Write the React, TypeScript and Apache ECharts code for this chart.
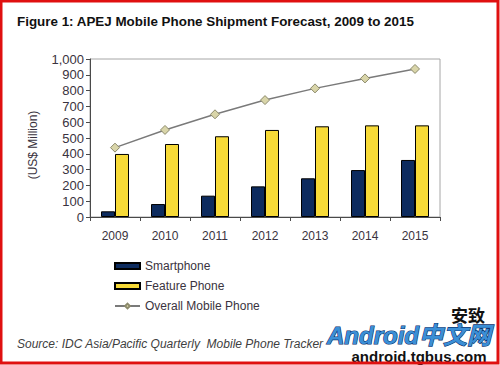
import React, { useEffect, useRef } from "react";
import * as echarts from "echarts";

const years = ["2009", "2010", "2011", "2012", "2013", "2014", "2015"];
const smartphone = [36, 82, 135, 194, 245, 297, 361];
const featurePhone = [399, 462, 511, 551, 574, 580, 580];
const overallMobile = [439, 551, 650, 740, 814, 877, 937];
const yTicks = { min: 0, max: 1000, interval: 100 };

export default function App() {
  const ref = useRef<HTMLDivElement>(null);
  useEffect(() => {
    if (!ref.current) return;
    const chart = echarts.init(ref.current, undefined, { renderer: "svg" });
    const font = "Arial, 'Liberation Sans', sans-serif";
    chart.setOption({
      animation: false,
      backgroundColor: "#ffffff",
      textStyle: { fontFamily: font },
      grid: {
        left: 90,
        right: 60,
        top: 59,
        bottom: 148,
        containLabel: false,
        show: true,
        borderColor: "#a6a6a6",
        borderWidth: 1,
        backgroundColor: "#ffffff",
      },
      xAxis: {
        type: "category",
        data: years,
        axisLine: { show: true, lineStyle: { color: "#4a4a4a", width: 1 } },
        axisTick: { show: true, inside: false, length: 4, alignWithLabel: false, lineStyle: { color: "#4a4a4a" } },
        axisLabel: { color: "#3a3340", fontSize: 12, fontFamily: font, margin: 13 },
        splitLine: { show: false },
      },
      yAxis: {
        type: "value",
        min: yTicks.min,
        max: yTicks.max,
        interval: yTicks.interval,
        axisLine: { show: true, lineStyle: { color: "#4a4a4a", width: 1 } },
        axisTick: { show: true, length: 4, lineStyle: { color: "#4a4a4a" } },
        axisLabel: {
          color: "#3a3340",
          fontSize: 13,
          fontFamily: font,
          margin: 6,
          formatter: (v: number) => v.toLocaleString("en-US"),
        },
        splitLine: { show: false },
      },
      legend: {
        orient: "vertical",
        left: 114,
        top: 260,
        padding: 0,
        itemWidth: 25,
        itemHeight: 6,
        itemGap: 8,
        textStyle: { color: "#3a3340", fontSize: 12, fontFamily: font },
        data: [
          { name: "Smartphone", icon: "rect" },
          { name: "Feature Phone", icon: "rect" },
          { name: "Overall Mobile Phone" },
        ],
      },
      series: [
        {
          name: "Smartphone",
          type: "bar",
          data: smartphone,
          barGap: "0%",
          barCategoryGap: "44%",
          itemStyle: { color: "#0d2b5e", borderColor: "#000000", borderWidth: 1 },
        },
        {
          name: "Feature Phone",
          type: "bar",
          data: featurePhone,
          barGap: "0%",
          barCategoryGap: "44%",
          itemStyle: { color: "#f7da38", borderColor: "#000000", borderWidth: 1 },
        },
        {
          name: "Overall Mobile Phone",
          type: "line",
          data: overallMobile,
          symbol: "diamond",
          symbolSize: 9,
          lineStyle: { color: "#7a7a7a", width: 1.5 },
          itemStyle: { color: "#d9d5a9", borderColor: "#8c8a6c", borderWidth: 1 },
        },
      ],
      graphic: [
        {
          type: "text",
          left: 17,
          top: 15,
          style: {
            text: "Figure 1: APEJ Mobile Phone Shipment Forecast, 2009 to 2015",
            font: "bold 13.4px Arial, 'Liberation Sans', sans-serif",
            fill: "#111111",
          },
        },
        {
          type: "text",
          x: 33,
          y: 145,
          rotation: Math.PI / 2,
          style: {
            text: "(US$ Million)",
            font: "12px Arial, 'Liberation Sans', sans-serif",
            fill: "#3a3340",
            align: "center",
            verticalAlign: "middle",
          },
        },
        {
          type: "text",
          left: 17,
          top: 338,
          style: {
            text: "Source: IDC Asia/Pacific Quarterly  Mobile Phone Tracker",
            font: "italic 12px Arial, 'Liberation Sans', sans-serif",
            fill: "#404040",
          },
        },
        {
          type: "text",
          x: 468,
          y: 314,
          z: 10,
          style: {
            text: "安致",
            font: "bold 17px 'Noto Sans CJK SC', sans-serif",
            fill: "#111111",
            stroke: "#ffffff",
            lineWidth: 2,
            align: "center",
            verticalAlign: "middle",
          },
        },
        {
          type: "text",
          x: 409,
          y: 335,
          z: 10,
          style: {
            text: "Android中文网",
            font: "italic bold 24px Arial, 'Noto Sans CJK SC', sans-serif",
            fill: "#3b8fd6",
            stroke: "#0a2f6a",
            lineWidth: 1.2,
            align: "center",
            verticalAlign: "middle",
          },
        },
        {
          type: "text",
          x: 419,
          y: 356,
          z: 10,
          style: {
            text: "android.tgbus.com",
            font: "bold 15px Arial, 'Liberation Sans', sans-serif",
            fill: "#111111",
            stroke: "#ffffff",
            lineWidth: 2,
            align: "center",
            verticalAlign: "middle",
          },
        },
        {
          type: "rect",
          z: 20,
          shape: { x: 1, y: 1, width: 497, height: 362 },
          style: { fill: "none", stroke: "#e01010", lineWidth: 3 },
        },
      ],
    });
    return () => chart.dispose();
  }, []);
  return (
    <div
      ref={ref}
      style={{ position: "fixed", left: 0, top: 0, width: 500, height: 365 }}
    />
  );
}
